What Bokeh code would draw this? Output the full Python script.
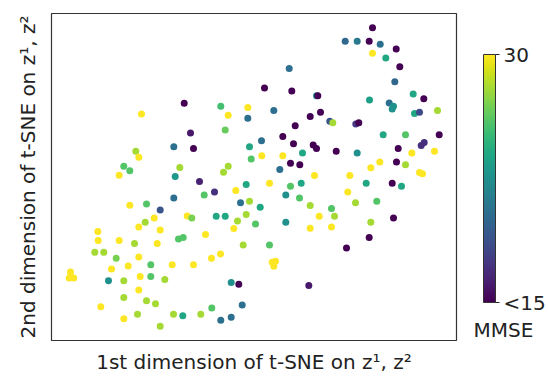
import numpy as np
from bokeh.plotting import figure
from bokeh.layouts import row
from bokeh.models import (ColumnDataSource, LinearColorMapper, ColorBar, FixedTicker,
                          Range1d, Label)
from bokeh.palettes import Viridis256
from bokeh.embed import file_html
from bokeh.resources import INLINE

# t-SNE coordinates (arbitrary units)
x = [132.7, 90, 169.3, 176.7, 196.3, 196.3, 173.7, 139, 122.3, 142,
     198, 199.7, 84.3, 87.3, 72.3, 78.3, 67.7, 128.3, 176.7, 172,
     123.7, 148, 194.7, 163, 152.7, 184.3, 122.3, 189, 198, 78.3,
     95, 108.7, 135.7, 140.3, 164.7, 173.7, 194.7, 186, 102.7, 93.7,
     87.3, 108.7, 182.3, 46.3, 46.7, 67.7, 83, 105.7, 127, 131.7,
     154, 191.7, 43.3, 52.3, 64.7, 87.3, 160, 169, 60, 76.7,
     99.3, 120.7, 142, 19, 17.7, 22.3, 57, 72.3, 88.7, 99.3,
     113.3, 179.7, 187.3, 87.3, 72.3, 95, 104, 49.3, 190.7, 160.3,
     86, 72.3, 122, 131.3, 149.3, 179.7, 169.3, 108.7,
     321, 293.7, 305.7, 317.7, 328.7, 344.7, 321, 334.3, 348.3, 237.7,
     343.3, 213, 240.3, 265, 266.3, 361.7, 372.3, 318, 337.7, 342,
     340.7, 222.3, 269, 258.7, 278.3, 281.3, 304.3, 307.3, 363, 368,
     386, 243.7, 231.3, 210, 242, 261.7, 265, 251, 284.7, 305.7,
     331.7, 354, 387.7, 369.7, 372.7, 346.7, 210.3, 231.3, 360.3, 383,
     239, 248.3, 345, 354, 228.3, 328.3, 319.3, 263, 298.3, 368,
     371, 218, 239, 249.7, 314.7, 340.7, 350, 234.3, 248, 296.3,
     208.7, 258.7, 280, 304, 325.3, 204, 234.3, 267.7, 283, 319.3,
     342, 258.7, 280, 218, 317.7, 295, 220.7, 224, 222.3, 257.3]

y = [238.7, 228, 235.7, 226.7, 234.3, 223.7, 211.7, 208.7, 195, 193.3,
     195, 182.7, 190.3, 184.3, 175.3, 170.7, 166.3, 174, 175.3, 169.3,
     165, 160, 157, 149.3, 146.3, 151, 143.3, 138.7, 140, 136,
     137.3, 131.3, 125.3, 123.3, 125, 125, 126.7, 120.3, 123.3, 119,
     114.3, 111.3, 112.7, 109.7, 100.7, 100.7, 97.7, 97.7, 102, 103.7,
     106.7, 96, 88.7, 88.7, 82.7, 84, 82.7, 87, 72, 75,
     76.3, 76.3, 76.3, 69, 63, 63, 60, 60, 64.3, 64.3,
     61.3, 58.3, 56.7, 50.7, 43.3, 40, 37, 34, 35.7, 32.7,
     26.3, 22, 26.3, 25, 26.3, 23.3, 20.3, 14.3,
     314.7, 301, 301, 301, 298, 293.3, 289, 284.3, 275.3, 273.7,
     260.3, 254, 251, 246.3, 246.3, 248, 243.3, 242, 239, 235.7,
     233, 231.3, 229.7, 225.3, 220.7, 219, 217.7, 219, 228.3, 229.7,
     231.3, 216, 205.3, 201, 198, 196.7, 193.3, 188.7, 190.3, 188.7,
     207, 207, 207, 196.3, 199.3, 193.3, 186, 186, 188.7, 190.3,
     178.3, 176.7, 179.7, 176.7, 172, 179.7, 173.7, 166, 166, 169,
     167.7, 158.3, 155.3, 158.3, 158.3, 158.3, 155.3, 146.3, 143.3, 149.3,
     134, 135.7, 132.7, 138.7, 140, 117.3, 119, 125, 125, 119,
     123.3, 113, 114.3, 96, 103.7, 93, 78.7, 79.7, 74.7, 55.3]

# MMSE score of each subject (values below 15 are shown as "<15")
mmse = [14, 30, 25.5, 30, 30, 20.5, 26.5, 16, 20.5, 14,
        24, 26, 28, 30, 26, 26, 30, 28, 28, 28,
        23, 16.5, 24, 17, 26, 30, 20.5, 20.5, 28, 30,
        26, 19, 30, 27, 24, 24, 28, 28, 30, 28,
        30, 30, 30, 30, 30, 30, 28, 30, 26, 26,
        30, 28, 28, 28, 27, 30, 30, 30, 30, 30,
        26, 30, 30, 30, 30, 30, 22.5, 28, 30, 26,
        28, 22.5, 14, 30, 28, 28, 28, 30, 20.5, 26,
        28, 30, 28, 24, 28, 20.5, 20.5, 28,
        14, 20, 21, 14, 20.5, 14, 30, 24, 14, 20.5,
        20, 14, 14, 22, 14, 24, 14, 23.5, 20.5, 22.5,
        22.5, 20.5, 14, 14, 19, 28, 17.5, 14, 24, 18.5,
        28, 14, 14, 20.5, 14, 14, 14, 24, 14, 22.5,
        24, 26, 14, 17, 17, 14, 30, 30, 30, 30,
        14, 14, 14, 28, 20.5, 30, 30, 30, 30, 30,
        30, 30, 26, 24, 24, 14, 24, 22.5, 26, 30,
        24, 28, 26, 28, 26, 26, 22.5, 30, 28, 28,
        14, 30, 30, 26, 14, 14, 30, 30, 30, 16]

cbar_ticks = [15, 30]
cbar_labels = {15: "<15", 30: "30"}
xlabel = "1st dimension of t-SNE on z\u00b9, z\u00b2"
ylabel = "2nd dimension of t-SNE on z\u00b9, z\u00b2"
cbar_title = "MMSE"

FONT = "DejaVu Sans"
TXT = "#222222"
n = min(len(x), len(y), len(mmse))
src = ColumnDataSource(dict(x=x[:n], y=y[:n], mmse=mmse[:n]))

mapper = LinearColorMapper(palette=Viridis256, low=15, high=30,
                           low_color=Viridis256[0], high_color=Viridis256[-1])

# main scatter panel
p = figure(width=460, height=376, output_backend="svg", toolbar_location=None,
           x_range=Range1d(0, 405), y_range=Range1d(0, 329),
           min_border_left=51, min_border_right=4, min_border_top=13,
           min_border_bottom=34)
p.grid.visible = False
p.outline_line_color = "#333333"
p.outline_line_width = 1.2

p.scatter("x", "y", source=src, size=7, line_color=None,
          fill_color={"field": "mmse", "transform": mapper})

for ax, lab, st in ((p.xaxis[0], xlabel, 9), (p.yaxis[0], ylabel, 12)):
    ax.ticker = FixedTicker(ticks=[])
    ax.axis_line_color = None
    ax.major_tick_line_color = None
    ax.minor_tick_line_color = None
    ax.major_tick_out = 0
    ax.major_tick_in = 0
    ax.major_label_standoff = 0
    ax.axis_label = lab
    ax.axis_label_standoff = st
    ax.axis_label_text_font = FONT
    ax.axis_label_text_font_size = "20px"
    ax.axis_label_text_font_style = "normal"
    ax.axis_label_text_color = TXT

# colorbar panel (its frame is aligned with the scatter frame by the row)
q = figure(width=88, height=376, output_backend="svg", toolbar_location=None,
           x_range=Range1d(0, 88), y_range=Range1d(0, 329),
           min_border=0, x_axis_location=None, y_axis_location=None)
q.grid.visible = False
q.outline_line_color = None

cb = ColorBar(color_mapper=mapper, ticker=FixedTicker(ticks=cbar_ticks),
              major_label_overrides=cbar_labels, width=12, height=248,
              padding=0, margin=0, location=(23, 38),
              bar_line_color="#333333", bar_line_width=1,
              major_tick_line_color=TXT, major_tick_in=0, major_tick_out=4,
              minor_tick_line_color=None, label_standoff=4,
              major_label_text_font=FONT, major_label_text_font_size="20px",
              major_label_text_color=TXT,
              background_fill_alpha=0, border_line_color=None)
q.add_layout(cb, "center")

q.add_layout(Label(x=43, y=11, text=cbar_title,
                   text_font=FONT, text_font_size="20px", text_color=TXT,
                   text_align="center", text_baseline="alphabetic"))

layout = row(p, q, spacing=0)
open("out.html", "w").write(file_html(layout, INLINE))
